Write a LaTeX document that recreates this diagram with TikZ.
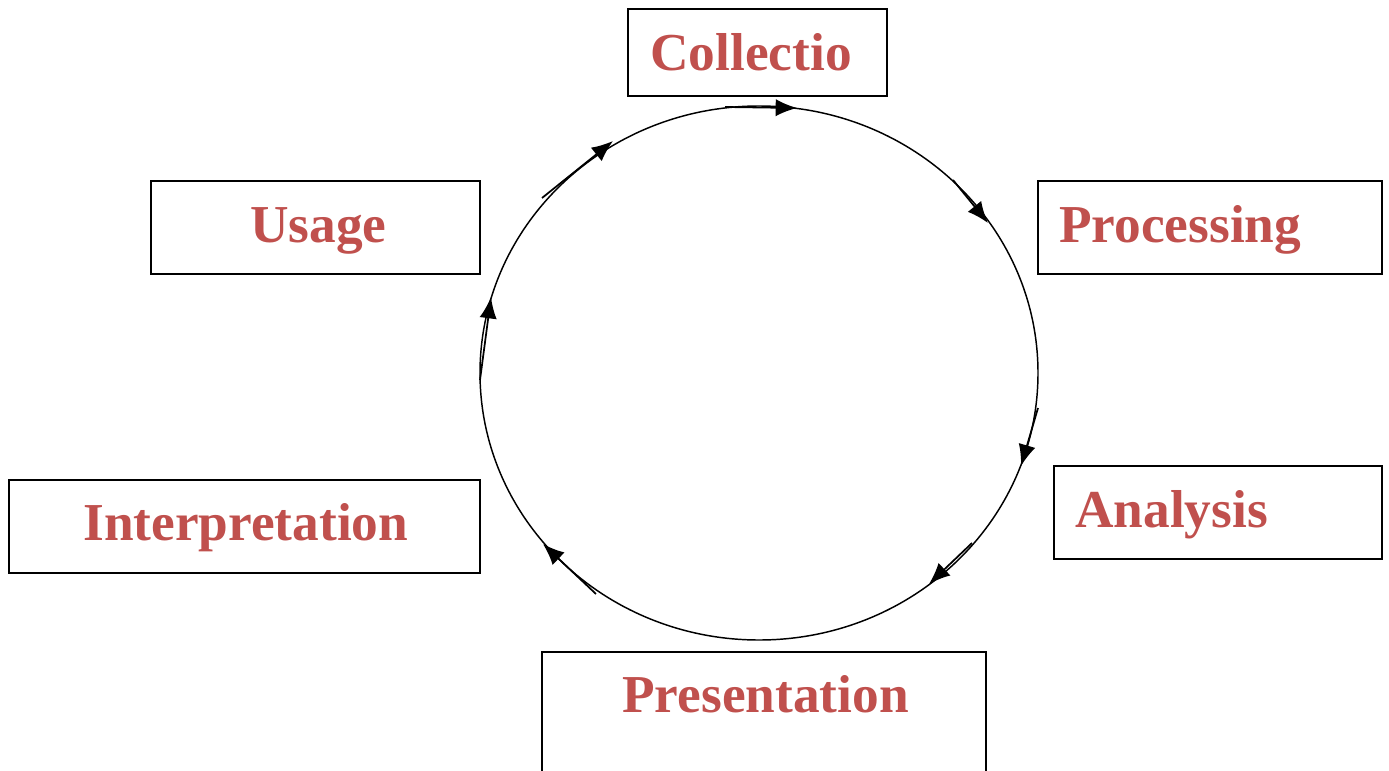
\documentclass[tikz,border=0pt]{standalone}
\usepackage{fontspec}
\setmainfont{Liberation Serif}
\usetikzlibrary{arrows.meta}
\definecolor{stagered}{HTML}{C0504D}
\tikzstyle{stage box}=[draw=black,line width=1.1pt,inner sep=0pt]
\tikzstyle{stage label}=[text=stagered,font=\fontsize{40}{48}\selectfont\bfseries,inner sep=0pt,anchor=base west]
\tikzstyle{cycle line}=[draw=black,line width=1.1pt]
\tikzstyle{cycle arrow}=[-{Latex[length=16pt,width=13pt]},black,line width=1.3pt]

\begin{document}
\begin{tikzpicture}[x=0.75pt,y=-0.75pt]
        \useasboundingbox (0,0) rectangle (1389,771);
        \clip (0,0) rectangle (1389,771);

        % CYCLE
        \coordinate (C) at (759,373); % centre of the cycle
        \draw[cycle line] (C) ellipse [x radius=279, y radius=267];

        % ARROWS ON THE CYCLE (tail/tip)
        \coordinate (A1) at (725,107);  \coordinate (B1) at (797,108);
        \coordinate (A2) at (953,180);  \coordinate (B2) at (988,223);
        \coordinate (A3) at (1038,408); \coordinate (B3) at (1021,466);
        \coordinate (A4) at (972,543);  \coordinate (B4) at (929,584);
        \coordinate (A5) at (596,594);  \coordinate (B5) at (543,544);
        \coordinate (A6) at (480,380);  \coordinate (B6) at (491,297);
        \coordinate (A7) at (542,198);  \coordinate (B7) at (613,141);
        \foreach \i in {1,...,7}{
          \draw[cycle arrow] (A\i) -- (B\i);
        }

        % STAGE BOXES
        \foreach \name/\xa/\ya/\xb/\yb in {collect/628/9/887/96,
                                           process/1038/181/1382/274,
                                           analyse/1054/466/1382/559,
                                           present/542/652/986/820,
                                           interpret/9/480/480/573,
                                           usage/151/181/480/274}{
          \node[stage box, minimum width={(\xb-\xa)*0.75pt}, minimum height={(\yb-\ya)*0.75pt}]
            (\name) at ({(\xa+\xb)/2},{(\ya+\yb)/2}) {};
        }

        % STAGE LABELS
        \node[stage label] (collect text)   at (650,70)  {Collectio};
        \node[stage label] (process text)   at (1059,242) {Processing};
        \node[stage label] (analyse text)   at (1075,527) {Analysis};
        \node[stage label] (present text)   at (622,712) {Presentation};
        \node[stage label] (interpret text) at (83,540)  {Interpretation};
        \node[stage label] (usage text)     at (250,242) {Usage};

\end{tikzpicture}
\end{document}
